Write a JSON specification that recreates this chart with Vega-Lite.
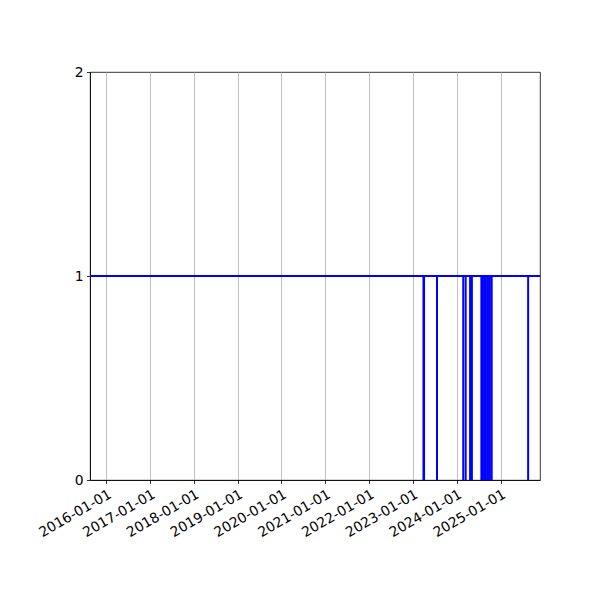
{
  "$schema": "https://vega.github.io/schema/vega-lite/v6.json",
  "width": 450,
  "height": 408,
  "autosize": {"type": "none"},
  "padding": {"left": 90, "top": 72, "right": 60, "bottom": 120},
  "background": "white",
  "config": {
    "view": {"stroke": "black", "strokeWidth": 0.8},
    "font": "DejaVu Sans",
    "axis": {
      "domainColor": "black",
      "domainWidth": 0.8,
      "tickColor": "black",
      "tickWidth": 0.8,
      "tickSize": 3.5,
      "labelFont": "DejaVu Sans",
      "labelFontSize": 13.9,
      "labelColor": "black",
      "labelPadding": 3.5,
      "title": null,
      "gridColor": "#b0b0b0",
      "gridWidth": 0.8
    }
  },
  "data": {
    "values": [
      {"date": "2023-03-30", "low": 0, "high": 1},
      {"date": "2023-04-04", "low": 0, "high": 1},
      {"date": "2023-07-21", "low": 0, "high": 1},
      {"date": "2024-02-25", "low": 0, "high": 1},
      {"date": "2024-03-16", "low": 0, "high": 1},
      {"date": "2024-04-22", "low": 0, "high": 1},
      {"date": "2024-05-07", "low": 0, "high": 1},
      {"date": "2024-07-25", "low": 0, "high": 1},
      {"date": "2024-08-07", "low": 0, "high": 1},
      {"date": "2024-08-20", "low": 0, "high": 1},
      {"date": "2024-09-01", "low": 0, "high": 1},
      {"date": "2024-09-18", "low": 0, "high": 1},
      {"date": "2024-10-04", "low": 0, "high": 1},
      {"date": "2024-10-19", "low": 0, "high": 1},
      {"date": "2025-08-19", "low": 0, "high": 1}
    ]
  },
  "layer": [
    {
      "mark": {"type": "rule", "color": "#0000ff", "strokeWidth": 2},
      "encoding": {
        "x": {
          "field": "date",
          "type": "temporal",
          "scale": {
            "type": "utc",
            "domain": [
              {"year": 2015, "month": 8, "date": 18, "utc": true},
              {"year": 2025, "month": 11, "date": 26, "utc": true}
            ]
          },
          "axis": {
            "values": [
              {"year": 2016, "month": 1, "date": 1, "utc": true},
              {"year": 2017, "month": 1, "date": 1, "utc": true},
              {"year": 2018, "month": 1, "date": 1, "utc": true},
              {"year": 2019, "month": 1, "date": 1, "utc": true},
              {"year": 2020, "month": 1, "date": 1, "utc": true},
              {"year": 2021, "month": 1, "date": 1, "utc": true},
              {"year": 2022, "month": 1, "date": 1, "utc": true},
              {"year": 2023, "month": 1, "date": 1, "utc": true},
              {"year": 2024, "month": 1, "date": 1, "utc": true},
              {"year": 2025, "month": 1, "date": 1, "utc": true}
            ],
            "format": "%Y-%m-%d",
            "labelAngle": -30,
            "labelAlign": "right",
            "labelBaseline": "top",
            "labelOverlap": false,
            "grid": true
          }
        },
        "y": {
          "field": "low",
          "type": "quantitative",
          "scale": {"domain": [0, 2], "nice": false},
          "axis": {"values": [0, 1, 2], "grid": false, "format": ".0f"}
        },
        "y2": {"field": "high"}
      }
    },
    {
      "mark": {"type": "rule", "color": "#0000ff", "strokeWidth": 2},
      "encoding": {
        "y": {"datum": 1, "type": "quantitative"}
      }
    }
  ]
}
